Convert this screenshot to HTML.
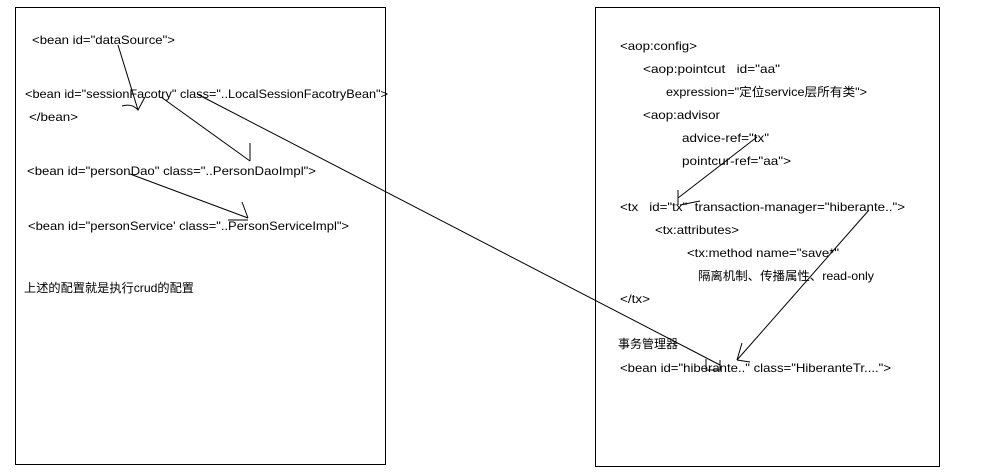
<!DOCTYPE html>
<html><head><meta charset="utf-8"><style>
html,body{margin:0;padding:0;background:#fff;width:982px;height:472px;overflow:hidden}
text{font-family:"Liberation Sans","Noto Sans CJK SC",sans-serif;font-size:12px;fill:#000;dominant-baseline:middle;white-space:pre}
</style></head><body>
<svg width="982" height="472" xmlns="http://www.w3.org/2000/svg">
<rect x="15.5" y="7.5" width="370" height="457" fill="none" stroke="#000"/>
<rect x="595.5" y="7.5" width="344" height="459" fill="none" stroke="#000"/>
<g transform="translate(0,2)">
<text x="32" y="39" textLength="143" lengthAdjust="spacingAndGlyphs">&lt;bean id="dataSource"&gt;</text>
<text x="25" y="93" textLength="363" lengthAdjust="spacingAndGlyphs">&lt;bean id="sessionFacotry" class="..LocalSessionFacotryBean"&gt;</text>
<text x="29" y="116" textLength="49" lengthAdjust="spacingAndGlyphs">&lt;/bean&gt;</text>
<text x="27" y="170" textLength="289" lengthAdjust="spacingAndGlyphs">&lt;bean id="personDao" class="..PersonDaoImpl"&gt;</text>
<text x="28" y="225" textLength="321" lengthAdjust="spacingAndGlyphs">&lt;bean id="personService' class="..PersonServiceImpl"&gt;</text>
<text x="24" y="287" textLength="170" lengthAdjust="spacingAndGlyphs">上述的配置就是执行crud的配置</text>

<text x="620" y="45" textLength="77" lengthAdjust="spacingAndGlyphs">&lt;aop:config&gt;</text>
<text x="643" y="68" textLength="137" lengthAdjust="spacingAndGlyphs">&lt;aop:pointcut   id="aa"</text>
<text x="666" y="91" textLength="201" lengthAdjust="spacingAndGlyphs">expression="定位service层所有类"&gt;</text>
<text x="643" y="114" textLength="77" lengthAdjust="spacingAndGlyphs">&lt;aop:advisor</text>
<text x="682" y="137" textLength="87" lengthAdjust="spacingAndGlyphs">advice-ref="tx"</text>
<text x="682" y="160" textLength="109" lengthAdjust="spacingAndGlyphs">pointcur-ref="aa"&gt;</text>
<text x="620" y="206" textLength="285" lengthAdjust="spacingAndGlyphs">&lt;tx   id="tx"  transaction-manager="hiberante.."&gt;</text>
<text x="655" y="229" textLength="84" lengthAdjust="spacingAndGlyphs">&lt;tx:attributes&gt;</text>
<text x="687" y="252" textLength="152" lengthAdjust="spacingAndGlyphs">&lt;tx:method name="save*"</text>
<text x="698" y="275" textLength="176" lengthAdjust="spacingAndGlyphs">隔离机制、传播属性、read-only</text>
<text x="620" y="298" textLength="30" lengthAdjust="spacingAndGlyphs">&lt;/tx&gt;</text>
<text x="618" y="343" textLength="60" lengthAdjust="spacingAndGlyphs">事务管理器</text>
<text x="620" y="367" textLength="271" lengthAdjust="spacingAndGlyphs">&lt;bean id="hiberante.." class="HiberanteTr...."&gt;</text>
</g>
<g stroke="#000" stroke-width="1" fill="none">
<line x1="118" y1="45" x2="138" y2="110"/>
<path d="M122 106 Q132 103 138 110 L145 97"/>
<line x1="161" y1="97" x2="250" y2="161"/>
<line x1="250" y1="143" x2="250" y2="161"/>
<line x1="197" y1="94" x2="720" y2="365"/>
<path d="M706 359 L706 370 L720 370 L720 360"/>
<line x1="130" y1="174" x2="248" y2="218"/>
<line x1="242" y1="202" x2="248" y2="218"/>
<line x1="228" y1="220" x2="248" y2="220"/>
<line x1="757" y1="137" x2="678" y2="198"/>
<line x1="678" y1="190" x2="678" y2="205"/>
<path d="M680 205 L690 203 L700 201"/>
<line x1="869" y1="210" x2="737" y2="360"/>
<line x1="742" y1="343" x2="737" y2="360"/>
<line x1="737" y1="360" x2="750" y2="362"/>
</g>
</svg>
</body></html>
